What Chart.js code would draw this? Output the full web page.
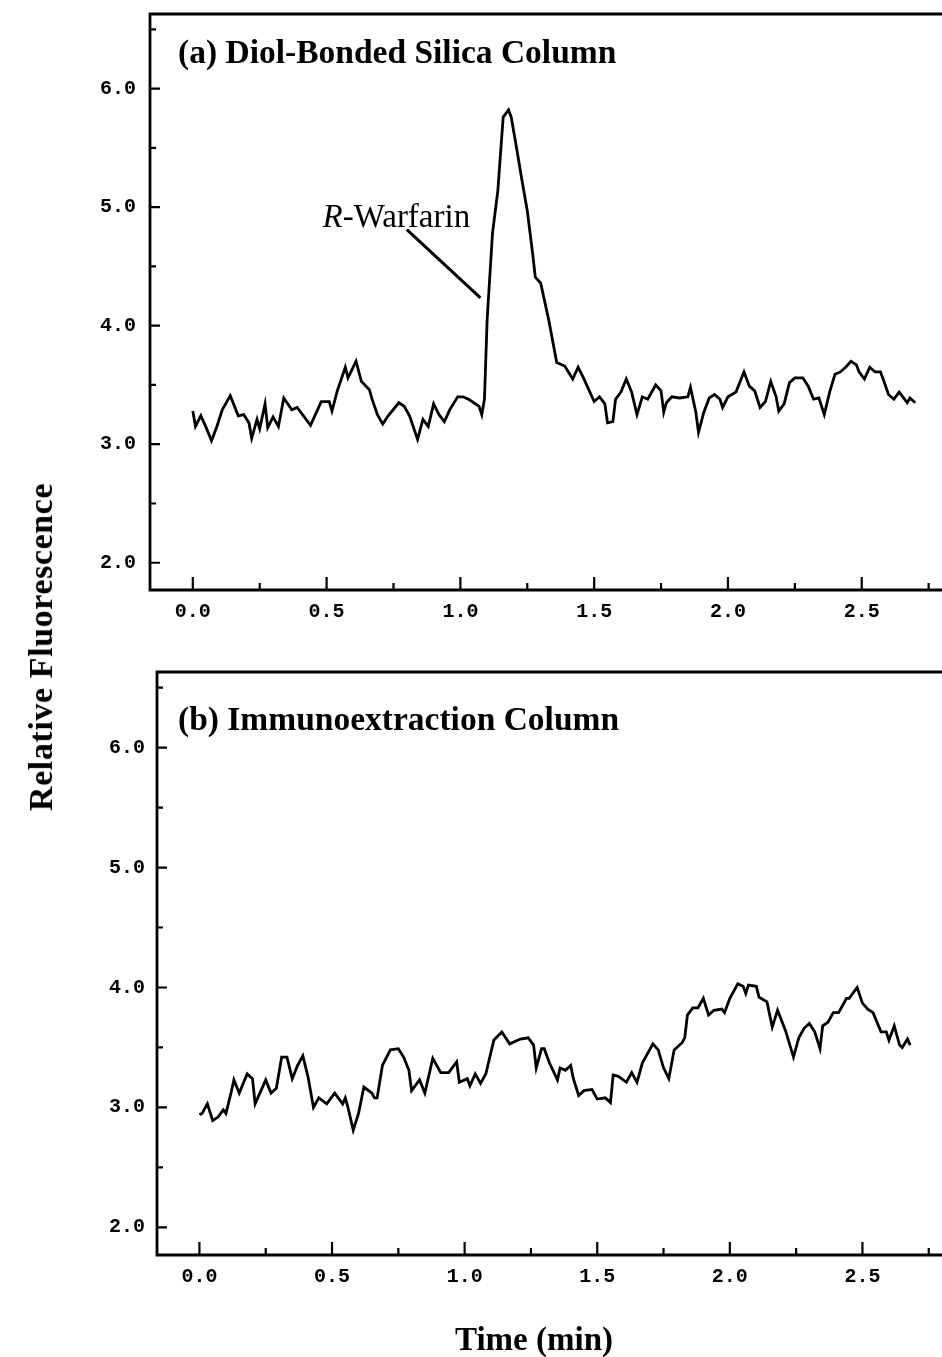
<!DOCTYPE html>
<html>
<head>
<meta charset="utf-8">
<script src="https://cdn.jsdelivr.net/npm/chart.js"></script>
<style>
  html, body { margin: 0; padding: 0; background: #fff; }
  body { width: 942px; height: 1357px; position: relative; overflow: hidden; }
  canvas { position: absolute; left: 0; }
  #chartA { top: 0; }
  #chartB { top: 650px; }
  .axis-title { position: absolute; font-family: "Liberation Serif", serif; font-weight: bold; color: #000; white-space: nowrap; line-height: 1; }
  #yTitle { left: 41px; top: 647px; font-size: 34px; letter-spacing: 0.6px; transform: translate(-50%, -50%) rotate(-90deg); }
  #xTitle { left: 534px; top: 1339px; font-size: 33px; transform: translate(-50%, -50%); }
</style>
</head>
<body>
<canvas id="chartA" width="942" height="650"></canvas>
<canvas id="chartB" width="942" height="707"></canvas>
<div class="axis-title" id="yTitle">Relative Fluorescence</div>
<div class="axis-title" id="xTitle">Time (min)</div>
<script>
// (a) Diol-bonded silica column, time in min
const timeA = [
    0.00, 0.01, 0.03, 0.05, 0.07, 0.09, 0.11, 0.14, 0.17, 0.19,
    0.21, 0.22, 0.24, 0.25, 0.27, 0.28, 0.30, 0.32, 0.34, 0.37,
    0.39, 0.41, 0.44, 0.48, 0.51, 0.52, 0.54, 0.57, 0.58, 0.61,
    0.63, 0.66, 0.67, 0.69, 0.71, 0.73, 0.77, 0.79, 0.81, 0.84,
    0.86, 0.88, 0.90, 0.92, 0.94, 0.96, 0.99, 1.01, 1.03, 1.05,
    1.07, 1.08, 1.09, 1.10, 1.12, 1.14, 1.16, 1.18, 1.19, 1.21,
    1.23, 1.25, 1.27, 1.28, 1.30, 1.33, 1.36, 1.39, 1.42, 1.44,
    1.46, 1.50, 1.52, 1.54, 1.55, 1.57, 1.58, 1.60, 1.62, 1.64,
    1.66, 1.68, 1.70, 1.73, 1.75, 1.76, 1.77, 1.79, 1.82, 1.85,
    1.86, 1.88, 1.89, 1.91, 1.93, 1.95, 1.97, 1.98, 2.00, 2.03,
    2.06, 2.08, 2.10, 2.12, 2.14, 2.16, 2.18, 2.19, 2.21, 2.23,
    2.25, 2.28, 2.30, 2.32, 2.34, 2.36, 2.38, 2.40, 2.42, 2.44,
    2.46, 2.48, 2.49, 2.51, 2.53, 2.55, 2.57, 2.58, 2.60, 2.62,
    2.64, 2.66, 2.67, 2.68, 2.70
];
const signalA = [
    3.28, 3.15, 3.24, 3.14, 3.03, 3.15, 3.29, 3.41, 3.24, 3.25,
    3.18, 3.05, 3.21, 3.13, 3.34, 3.14, 3.23, 3.15, 3.39, 3.29,
    3.31, 3.25, 3.16, 3.36, 3.36, 3.28, 3.45, 3.65, 3.56, 3.70,
    3.53, 3.46, 3.38, 3.25, 3.17, 3.24, 3.35, 3.32, 3.24, 3.04,
    3.21, 3.15, 3.34, 3.25, 3.19, 3.29, 3.40, 3.40, 3.38, 3.35,
    3.32, 3.25, 3.38, 4.05, 4.78, 5.14, 5.76, 5.82, 5.76, 5.50,
    5.23, 4.97, 4.61, 4.41, 4.36, 4.05, 3.69, 3.66, 3.55, 3.65,
    3.56, 3.36, 3.40, 3.34, 3.18, 3.19, 3.38, 3.44, 3.55, 3.44,
    3.25, 3.40, 3.38, 3.50, 3.45, 3.27, 3.35, 3.40, 3.39, 3.40,
    3.48, 3.27, 3.10, 3.27, 3.39, 3.42, 3.38, 3.31, 3.40, 3.44,
    3.61, 3.49, 3.45, 3.31, 3.36, 3.53, 3.40, 3.28, 3.34, 3.52,
    3.56, 3.56, 3.49, 3.38, 3.39, 3.25, 3.44, 3.59, 3.61, 3.65,
    3.70, 3.67, 3.61, 3.55, 3.65, 3.61, 3.61, 3.55, 3.42, 3.38,
    3.44, 3.38, 3.35, 3.39, 3.35
];

// (b) Immunoextraction column
const timeB = [
    0.00, 0.01, 0.03, 0.05, 0.07, 0.09, 0.10, 0.12, 0.13, 0.15,
    0.18, 0.20, 0.21, 0.23, 0.25, 0.27, 0.29, 0.31, 0.33, 0.35,
    0.37, 0.39, 0.41, 0.43, 0.45, 0.48, 0.51, 0.54, 0.55, 0.56,
    0.58, 0.60, 0.62, 0.65, 0.66, 0.67, 0.69, 0.72, 0.75, 0.77,
    0.79, 0.80, 0.83, 0.85, 0.88, 0.91, 0.94, 0.97, 0.98, 1.01,
    1.02, 1.04, 1.06, 1.08, 1.11, 1.14, 1.17, 1.21, 1.24, 1.26,
    1.27, 1.29, 1.30, 1.32, 1.35, 1.36, 1.38, 1.40, 1.41, 1.43,
    1.45, 1.48, 1.50, 1.53, 1.55, 1.56, 1.58, 1.61, 1.63, 1.65,
    1.67, 1.70, 1.71, 1.73, 1.75, 1.77, 1.79, 1.82, 1.83, 1.84,
    1.86, 1.88, 1.90, 1.92, 1.94, 1.97, 1.98, 2.00, 2.03, 2.05,
    2.06, 2.07, 2.10, 2.11, 2.14, 2.16, 2.18, 2.21, 2.24, 2.26,
    2.28, 2.30, 2.32, 2.34, 2.35, 2.37, 2.39, 2.41, 2.44, 2.45,
    2.48, 2.50, 2.52, 2.54, 2.57, 2.59, 2.60, 2.62, 2.64, 2.65,
    2.67, 2.68
];
const signalB = [
    2.94, 2.95, 3.03, 2.89, 2.92, 2.98, 2.95, 3.13, 3.23, 3.12,
    3.28, 3.24, 3.03, 3.13, 3.23, 3.12, 3.16, 3.42, 3.42, 3.24,
    3.35, 3.43, 3.25, 3.00, 3.08, 3.03, 3.12, 3.03, 3.08, 3.00,
    2.81, 2.95, 3.17, 3.12, 3.08, 3.08, 3.35, 3.48, 3.49, 3.42,
    3.31, 3.14, 3.23, 3.12, 3.41, 3.29, 3.29, 3.38, 3.21, 3.24,
    3.18, 3.28, 3.20, 3.28, 3.56, 3.63, 3.53, 3.57, 3.58, 3.52,
    3.33, 3.49, 3.49, 3.37, 3.23, 3.33, 3.31, 3.35, 3.24, 3.10,
    3.14, 3.15, 3.07, 3.08, 3.04, 3.27, 3.26, 3.21, 3.29, 3.21,
    3.37, 3.49, 3.53, 3.48, 3.33, 3.24, 3.48, 3.54, 3.58, 3.77,
    3.83, 3.83, 3.91, 3.77, 3.81, 3.82, 3.79, 3.91, 4.03, 4.01,
    3.95, 4.02, 4.01, 3.92, 3.88, 3.67, 3.81, 3.64, 3.42, 3.58,
    3.66, 3.70, 3.63, 3.49, 3.68, 3.71, 3.79, 3.79, 3.91, 3.91,
    4.00, 3.87, 3.82, 3.79, 3.63, 3.63, 3.56, 3.68, 3.52, 3.50,
    3.57, 3.52
];

// ticks (empty label = minor tick)
const xTickValues = [0, 0.25, 0.5, 0.75, 1.0, 1.25, 1.5, 1.75, 2.0, 2.25, 2.5, 2.75];
const xTickLabels = ['0.0', '', '0.5', '', '1.0', '', '1.5', '', '2.0', '', '2.5', ''];
const yTickValues = [2.0, 2.5, 3.0, 3.5, 4.0, 4.5, 5.0, 5.5, 6.0, 6.5];
const yTickLabels = ['2.0', '', '3.0', '', '4.0', '', '5.0', '', '6.0', ''];

const tickFont = { family: '"Liberation Mono", "DejaVu Sans Mono", monospace', weight: 'bold', size: 20 };

// axis frame and inward pointing ticks
const framePlugin = {
    id: 'frame',
    afterDraw(chart) {
        const { ctx, chartArea: a, scales: { x, y } } = chart;
        ctx.save();
        ctx.strokeStyle = '#000';
        ctx.lineWidth = 2.8;
        ctx.beginPath();
        ctx.moveTo(a.right, a.top);
        ctx.lineTo(a.left, a.top);
        ctx.lineTo(a.left, a.bottom);
        ctx.lineTo(a.right, a.bottom);
        ctx.stroke();

        ctx.lineWidth = 2.2;
        ctx.beginPath();
        x.ticks.forEach((t, i) => {
            const px = x.getPixelForValue(t.value);
            const len = xTickLabels[i] ? 13 : 7;
            ctx.moveTo(px, a.bottom);
            ctx.lineTo(px, a.bottom - len);
        });
        y.ticks.forEach((t, i) => {
            const py = y.getPixelForValue(t.value);
            const len = yTickLabels[i] ? 10 : 6;
            ctx.moveTo(a.left, py);
            ctx.lineTo(a.left + len, py);
        });
        ctx.stroke();
        ctx.restore();
    }
};

// panel caption and peak annotation
const captionPlugin = {
    id: 'caption',
    afterDraw(chart, args, opts) {
        const { ctx, scales: { x, y } } = chart;
        ctx.save();
        ctx.fillStyle = '#000';
        ctx.strokeStyle = '#000';
        ctx.textBaseline = 'alphabetic';
        ctx.font = 'bold 33.5px "Liberation Serif"';
        ctx.fillText(opts.title, opts.titleX, opts.titleY);

        const peak = opts.peak;
        if (peak) {
            let px = x.getPixelForValue(peak.at[0]);
            const py = y.getPixelForValue(peak.at[1]);
            ctx.font = 'italic 33px "Liberation Serif"';
            ctx.fillText(peak.italic, px, py);
            px += ctx.measureText(peak.italic).width;
            ctx.font = '33px "Liberation Serif"';
            ctx.fillText(peak.rest, px, py);

            ctx.lineWidth = 3;
            ctx.beginPath();
            ctx.moveTo(x.getPixelForValue(peak.from[0]), y.getPixelForValue(peak.from[1]));
            ctx.lineTo(x.getPixelForValue(peak.to[0]), y.getPixelForValue(peak.to[1]));
            ctx.stroke();
        }
        ctx.restore();
    }
};

function makeChart(id, times, signal, cfg) {
    return new Chart(document.getElementById(id), {
        type: 'line',
        data: {
            datasets: [{
                data: times.map((t, i) => ({ x: t, y: signal[i] })),
                borderColor: '#000',
                borderWidth: 2.8,
                pointRadius: 0,
                tension: 0,
                fill: false
            }]
        },
        options: {
            responsive: false,
            animation: false,
            layout: { padding: { top: cfg.top, left: 0, right: 0, bottom: 0 } },
            plugins: {
                legend: { display: false },
                tooltip: { enabled: false },
                caption: cfg.caption
            },
            scales: {
                x: {
                    type: 'linear',
                    min: -0.16,
                    max: 2.80,
                    grid: { display: false, drawTicks: false },
                    border: { display: false },
                    afterBuildTicks: s => { s.ticks = xTickValues.map(v => ({ value: v })); },
                    ticks: {
                        callback: (v, i) => xTickLabels[i],
                        autoSkip: false,
                        maxRotation: 0,
                        padding: 10,
                        color: '#000',
                        font: tickFont
                    },
                    afterFit: s => { s.height = cfg.xHeight; s.paddingLeft = 0; s.paddingRight = 0; }
                },
                y: {
                    type: 'linear',
                    min: 1.77,
                    max: 6.63,
                    grid: { display: false, drawTicks: false },
                    border: { display: false },
                    afterBuildTicks: s => { s.ticks = yTickValues.map(v => ({ value: v })); },
                    ticks: {
                        callback: (v, i) => yTickLabels[i],
                        autoSkip: false,
                        padding: cfg.yPad,
                        color: '#000',
                        font: tickFont
                    },
                    afterFit: s => { s.width = cfg.yWidth; s.paddingTop = 0; s.paddingBottom = 0; }
                }
            }
        },
        plugins: [framePlugin, captionPlugin]
    });
}

makeChart('chartA', timeA, signalA, {
    top: 14, xHeight: 60, yWidth: 150, yPad: 14,
    caption: {
        title: '(a) Diol-Bonded Silica Column', titleX: 178, titleY: 63,
        peak: { italic: 'R', rest: '-Warfarin', at: [0.485, 4.83], from: [0.80, 4.81], to: [1.075, 4.235] }
    }
});

makeChart('chartB', timeB, signalB, {
    top: 22, xHeight: 102, yWidth: 157, yPad: 12,
    caption: { title: '(b) Immunoextraction Column', titleX: 178, titleY: 80 }
});
</script>
</body>
</html>
